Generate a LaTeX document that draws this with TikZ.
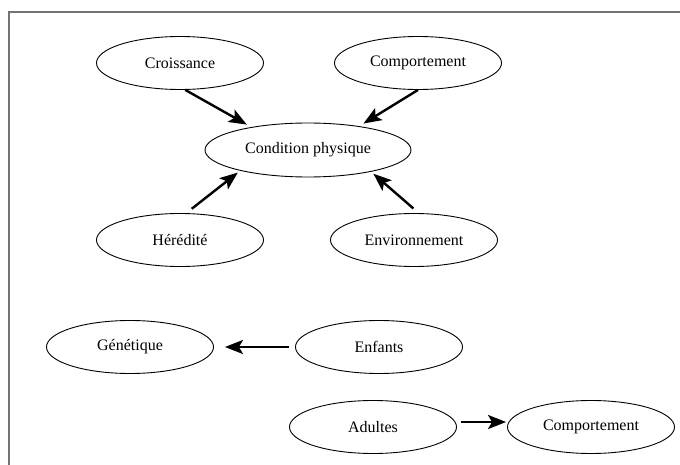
\documentclass[tikz,border=0pt]{standalone}
\usepackage{fontspec}
\setmainfont{Liberation Serif}
\usetikzlibrary{shapes.geometric,arrows.meta}
\begin{document}
\begin{tikzpicture}[
        x=1pt, y=-1pt,
        every node/.style={draw, ellipse, minimum width=167pt, minimum height=53pt, inner sep=0pt, line width=0.9pt, font=\fontsize{16}{19}\selectfont},
        wide/.style={minimum width=206pt, minimum height=54pt},
        arr/.style={line width=2.4pt, -{Stealth[length=18pt, width=14pt, inset=4pt]}},
        frame/.style={draw=black!55, line width=1.5pt},
    ]
    \useasboundingbox (0,0) rectangle (680,465);
    \draw[frame] (9,465) -- (9,12) -- (680,12);
    % upper group
    \node (cond) at (308,150) [wide] {Condition physique};
    \node (croi) at (180,63) {Croissance};
    \node (comp) at (418,63) {Comportement};
    \node (hered) at (180,240) {Hérédité};
    \node (env) at (414,240) {Environnement};
    \draw[arr, shorten >=5pt] (croi.-79) -- (cond.158);
    \draw[arr, shorten >=5pt] (comp.-90) -- (cond.25);
    \draw[arr, shorten <=7pt, shorten >=3pt] (hered.77) -- (cond.-163);
    \draw[arr, shorten <=7pt, shorten >=3pt] (env.80) -- (cond.-19);
    % lower group
    \node (gen) at (130,347) {Génétique};
    \node (enf) at (379,347) {Enfants};
    \node (adu) at (373,427) {Adultes};
    \node (comp2) at (591,427) {Comportement};
    \draw[arr, shorten <=6pt, shorten >=11pt] (enf.west) -- (gen.east);
    \draw[arr, shorten <=4pt, shorten >=1pt] ([yshift=5pt]adu.east) -- ([yshift=5pt]comp2.west);
\end{tikzpicture}
\end{document}
